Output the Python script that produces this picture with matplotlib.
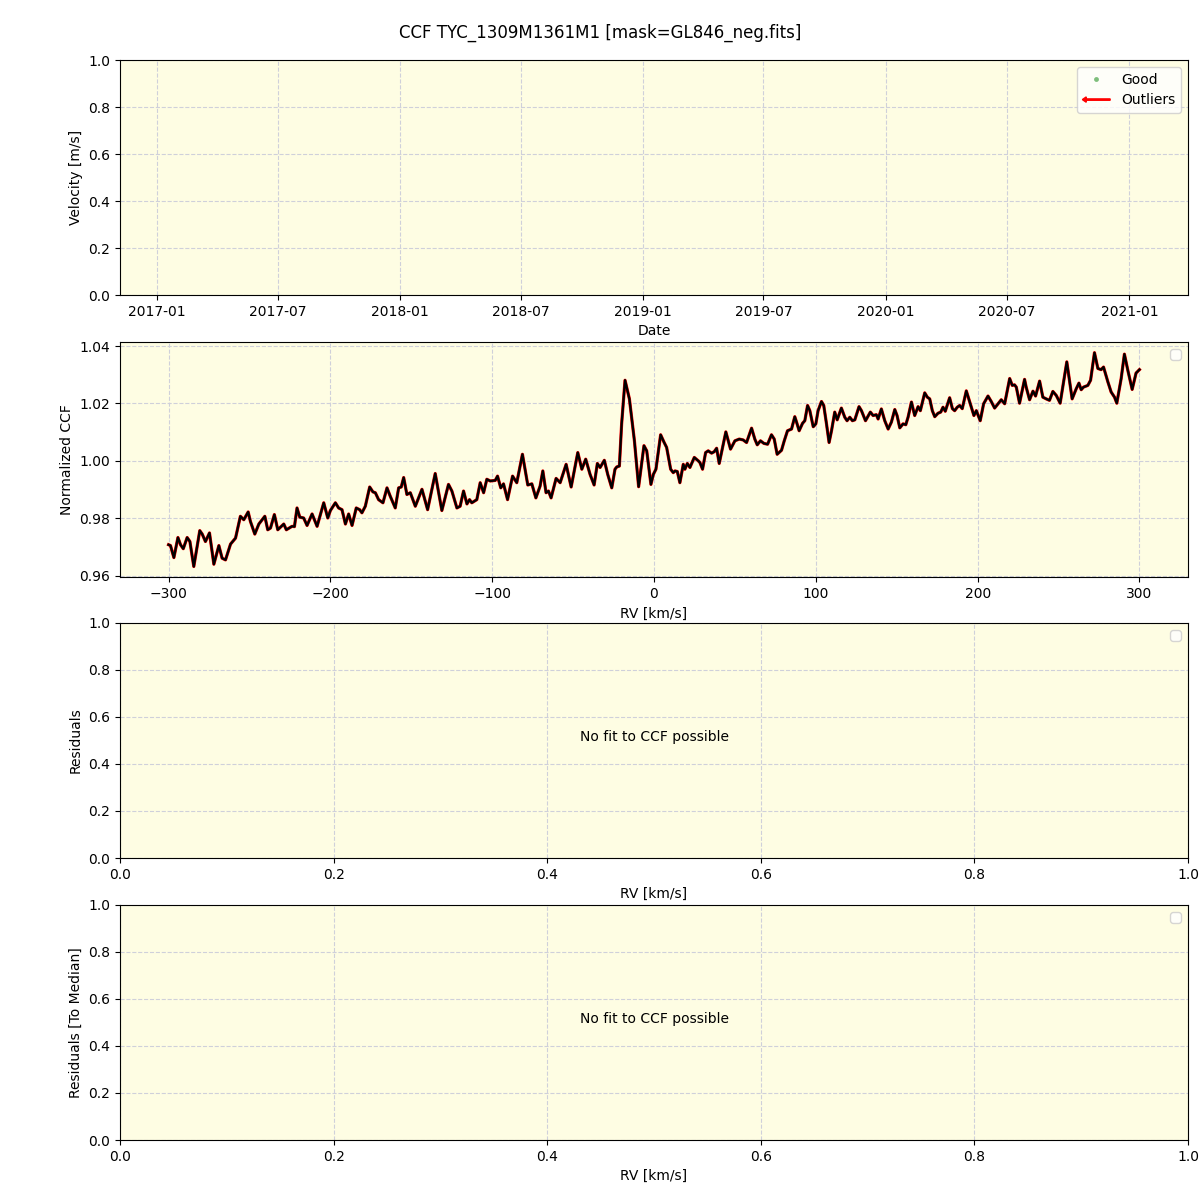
import matplotlib
matplotlib.use("Agg")
import matplotlib.pyplot as plt
import matplotlib.patches as mpatches
import matplotlib.dates as mdates
from matplotlib.lines import Line2D
from matplotlib.legend_handler import HandlerPatch
import datetime as dt

title = "CCF TYC_1309M1361M1 [mask=GL846_neg.fits]"

rv = [-300.0, -298.8, -296.7, -294.2, -292.6, -290.9, -288.5, -286.8, -284.4, -280.7,
      -279.2, -277.2, -274.7, -272.0, -268.9, -266.9, -264.8, -261.7, -258.6, -255.6,
      -253.5, -250.8, -249.4, -246.7, -244.2, -240.5, -238.7, -237.0, -234.6, -232.5,
      -228.8, -227.2, -223.7, -222.2, -220.6, -218.9, -216.5, -214.4, -211.3, -208.2,
      -204.1, -201.6,
      -200.0, -196.9, -194.9, -192.8, -190.7, -188.7, -186.6, -184.0, -181.9, -180.5,
      -178.4, -175.7, -173.7, -172.2, -170.2, -167.5, -165.0, -163.0, -159.9, -157.8,
      -156.2, -154.7, -152.7, -150.6, -147.5, -143.4, -139.9, -135.2, -131.1, -127.0,
      -124.9, -121.8, -119.8, -117.7, -115.6, -114.0, -112.6, -109.5, -107.4, -105.3,
      -103.3, -101.2,
      -98.1, -96.7, -94.7, -93.0, -90.5, -87.4, -84.8, -81.3, -78.0, -75.5,
      -73.0, -70.4, -68.7, -66.7, -65.2, -63.6, -60.5, -58.0, -54.3, -51.2,
      -47.1, -44.6, -42.2, -39.5, -37.0, -35.0, -33.3, -30.7, -28.6, -26.1,
      -24.1, -23.0, -21.4, -20.0, -17.9, -15.2, -12.1, -9.5, -6.2, -4.5,
      -1.9, -0.4, 1.2, 4.1, 6.2, 7.8, 10.3, 11.9, 13.0, 14.4,
      16.0, 18.1, 19.1, 20.6, 22.2, 24.9, 27.4, 28.4, 30.0, 31.9,
      33.5, 35.6, 37.2, 38.7, 40.3, 42.4, 44.4, 45.9, 47.3, 50.0,
      52.7, 55.1, 57.2, 60.3, 62.3, 63.8, 65.8, 67.9, 70.2, 72.6,
      74.3, 76.1, 78.8, 80.5, 82.5, 85.0, 87.0, 88.1, 89.7, 91.8,
      93.2, 94.9, 96.3,
      98.4, 100.0, 101.4, 103.5, 104.9, 106.6, 108.2, 109.7, 111.7, 113.2,
      115.8, 117.9, 119.3, 121.0, 122.6, 124.1, 126.7, 128.2, 130.7, 133.7,
      135.4, 137.4, 138.5, 140.5, 142.6, 144.7, 146.7, 148.8, 150.2, 151.9,
      153.9, 155.6, 157.0, 159.1, 161.1, 163.2, 164.6, 167.3, 168.9, 170.4,
      172.0, 173.5, 175.5, 177.2, 178.6, 180.0, 182.7, 184.4, 185.8, 187.4,
      188.9, 190.5, 193.0, 195.1,
      197.7, 199.2, 201.6, 203.7, 206.4, 208.4, 210.5, 212.6, 214.6, 216.7,
      219.8, 221.4, 222.8, 223.9, 225.9, 229.0, 230.0, 232.1, 234.2, 235.8,
      238.3, 240.3, 242.4, 244.4, 246.5, 248.6, 251.0, 255.1, 258.4, 260.9,
      262.6, 264.0, 265.4, 268.1, 269.8, 272.2, 274.3, 276.3, 277.8, 280.5,
      282.5, 284.6, 286.0, 288.7, 290.7, 292.8, 295.5, 297.9, 300.0]

ccf = [0.9708, 0.9705, 0.9663, 0.9733, 0.9708, 0.9694, 0.9733, 0.9719, 0.9632, 0.9757,
       0.9745, 0.9719, 0.9749, 0.9640, 0.9705, 0.9661, 0.9655, 0.9710, 0.9731, 0.9807,
       0.9795, 0.9822, 0.9789, 0.9745, 0.9780, 0.9807, 0.9760, 0.9766, 0.9813, 0.9760,
       0.9780, 0.9760, 0.9772, 0.9771, 0.9836, 0.9804, 0.9801, 0.9775, 0.9815, 0.9772,
       0.9854, 0.9801,
       0.9827, 0.9854, 0.9836, 0.9830, 0.9780, 0.9815, 0.9775, 0.9836, 0.9830, 0.9819,
       0.9842, 0.9909, 0.9892, 0.9889, 0.9865, 0.9854, 0.9906, 0.9877, 0.9836, 0.9906,
       0.9909, 0.9942, 0.9883, 0.9889, 0.9842, 0.9901, 0.9830, 0.9956, 0.9827, 0.9918,
       0.9895, 0.9836, 0.9842, 0.9895, 0.9850, 0.9865, 0.9854, 0.9865, 0.9924, 0.9889,
       0.9936, 0.9930,
       0.9932, 0.9947, 0.9906, 0.9920, 0.9865, 0.9947, 0.9924, 1.0023, 0.9916, 0.9920,
       0.9871, 0.9912, 0.9965, 0.9889, 0.9895, 0.9871, 0.9939, 0.9924, 0.9988, 0.9909,
       1.0029, 0.9971, 1.0006, 0.9953, 0.9916, 0.9991, 0.9977, 1.0002, 0.9953, 0.9906,
       0.9971, 0.9979, 0.9982, 1.0129, 1.0281, 1.0216, 1.0070, 0.9910, 1.0053, 1.0035,
       0.9918, 0.9953, 0.9971, 1.0091, 1.0065, 1.0047, 0.9971, 0.9959, 0.9965, 0.9963,
       0.9924, 0.9988, 0.9971, 0.9991, 0.9977, 1.0012, 1.0000, 0.9994, 0.9971, 1.0029,
       1.0035, 1.0027, 1.0032, 1.0044, 0.9991, 1.0047, 1.0101, 1.0070, 1.0041, 1.0070,
       1.0076, 1.0073, 1.0064, 1.0114, 1.0076, 1.0056, 1.0070, 1.0061, 1.0058, 1.0091,
       1.0076, 1.0023, 1.0037, 1.0070, 1.0105, 1.0111, 1.0154, 1.0135, 1.0105, 1.0131,
       1.0140, 1.0193, 1.0175,
       1.0119, 1.0129, 1.0175, 1.0207, 1.0193, 1.0129, 1.0064, 1.0105, 1.0170, 1.0143,
       1.0184, 1.0152, 1.0140, 1.0152, 1.0140, 1.0143, 1.0189, 1.0175, 1.0140, 1.0170,
       1.0158, 1.0161, 1.0146, 1.0181, 1.0140, 1.0111, 1.0135, 1.0179, 1.0158, 1.0115,
       1.0129, 1.0126, 1.0152, 1.0205, 1.0158, 1.0189, 1.0175, 1.0237, 1.0222, 1.0216,
       1.0175, 1.0154, 1.0166, 1.0170, 1.0187, 1.0173, 1.0220, 1.0182, 1.0175, 1.0187,
       1.0193, 1.0182, 1.0244, 1.0205,
       1.0158, 1.0175, 1.0140, 1.0199, 1.0226, 1.0207, 1.0184, 1.0199, 1.0213, 1.0199,
       1.0287, 1.0263, 1.0265, 1.0257, 1.0201, 1.0284, 1.0257, 1.0213, 1.0243, 1.0226,
       1.0278, 1.0222, 1.0216, 1.0211, 1.0242, 1.0228, 1.0201, 1.0345, 1.0216, 1.0251,
       1.0271, 1.0248, 1.0257, 1.0263, 1.0281, 1.0377, 1.0322, 1.0318, 1.0327, 1.0275,
       1.0240, 1.0222, 1.0201, 1.0287, 1.0372, 1.0316, 1.0249, 1.0306, 1.0318]

no_fit_text = "No fit to CCF possible"
bg = "#fefde3"
gridkw = dict(color="#cfd0da", linestyle="--", linewidth=0.8)

fig = plt.figure(figsize=(12, 12), dpi=100)
L, W = 0.1, 0.89
ax1 = fig.add_axes([L, 0.754, W, 0.196])
ax2 = fig.add_axes([L, 0.519, W, 0.196])
ax3 = fig.add_axes([L, 0.285, W, 0.196])
ax4 = fig.add_axes([L, 0.050, W, 0.196])

for ax in (ax1, ax2, ax3, ax4):
    ax.set_facecolor(bg)
    ax.grid(True, **gridkw)
    ax.set_axisbelow(True)

# Panel 1: velocity vs date (empty)
ax1.set_xlim(dt.datetime(2016, 11, 6), dt.datetime(2021, 3, 30))
ax1.set_ylim(0, 1)
ax1.xaxis.set_major_locator(mdates.MonthLocator(bymonth=[1, 7]))
ax1.xaxis.set_major_formatter(mdates.DateFormatter("%Y-%m"))
ax1.set_xlabel("Date")
ax1.set_ylabel("Velocity [m/s]")


def make_arrow(legend, orig_handle, xdescent, ydescent, width, height, fontsize):
    return mpatches.FancyArrow(width, height / 2, -width, 0, length_includes_head=True,
                               head_width=0.55 * height, head_length=0.4 * height,
                               width=0.14 * height, color="red")


good_h = Line2D([], [], marker="o", linestyle="none", color="green", alpha=0.5,
                markersize=3.5, markeredgewidth=0)
out_h = mpatches.FancyArrow(0, 0, 1, 0, color="red")
ax1.legend([good_h, out_h], ["Good", "Outliers"], loc="upper right",
           handler_map={mpatches.FancyArrow: HandlerPatch(patch_func=make_arrow)})

# Panel 2: CCF
ax2.plot(rv, ccf, color="red", lw=2.3)
ax2.plot(rv, ccf, color="black", lw=1.7)
ax2.set_xlabel("RV [km/s]")
ax2.set_ylabel("Normalized CCF")
ax2.legend(handles=[], loc="upper right")

# Panel 3 / 4: residuals
for ax, lab in ((ax3, "Residuals"), (ax4, "Residuals [To Median]")):
    ax.set_xlim(0, 1)
    ax.set_ylim(0, 1)
    ax.text(0.5, 0.513, no_fit_text, ha="center", va="center", transform=ax.transAxes)
    ax.set_xlabel("RV [km/s]")
    ax.set_ylabel(lab)
    ax.legend(handles=[], loc="upper right")

fig.suptitle(title, y=0.98, fontsize=12)
fig.savefig("out.png", dpi=100)
